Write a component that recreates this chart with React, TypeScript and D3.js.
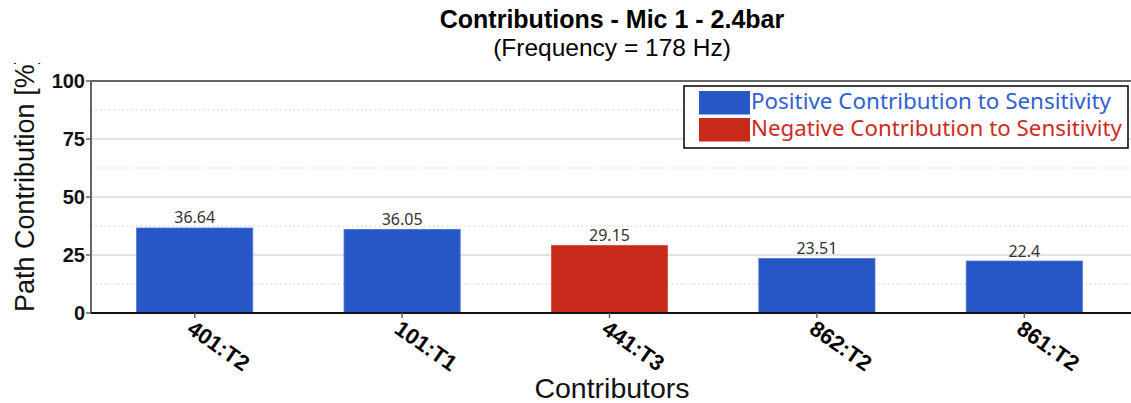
import React from "react";
import * as d3 from "d3";

const categories = ["401:T2", "101:T1", "441:T3", "862:T2", "861:T2"];
const values = [36.64, 36.05, 29.15, 23.51, 22.4];
const signs = ["positive", "positive", "negative", "positive", "positive"];
const majorTicks = [0, 25, 50, 75, 100];
const minorTicks = [12.5, 37.5, 62.5, 87.5];
const legendItems = [
  { key: "positive", label: "Positive Contribution to Sensitivity" },
  { key: "negative", label: "Negative Contribution to Sensitivity" },
];

const W = 1131;
const H = 403;
const colors: Record<string, string> = { positive: "#2757c6", negative: "#c7291b" };
const textColors: Record<string, string> = { positive: "#2f5fd0", negative: "#cf2b1e" };

export default function App() {
  const left = 91, right = 1128, top = 81, bottom = 313;
  const x = d3.scaleBand<string>().domain(categories).range([left, right]).paddingInner(0.44).paddingOuter(0.22);
  const y = d3.scaleLinear().domain([0, 100]).range([bottom, top]);
  const fmt = (v: number) => String(v);
  return (
    <svg width={W} height={H} style={{ position: "absolute", left: 0, top: 0, background: "#fff" }}>
      <defs>
        <clipPath id="ytitleclip">
          <rect x={0} y={63} width={80} height={340} />
        </clipPath>
      </defs>
      <rect x={0} y={0} width={W} height={H} fill="#fff" />
      {/* title */}
      <text x={612} y={28} textAnchor="middle" fontFamily="Liberation Sans, Arial, sans-serif" fontWeight="bold" fontSize={25} fill="#000">
        Contributions - Mic 1 - 2.4bar
      </text>
      <text x={612} y={55.5} textAnchor="middle" fontFamily="Liberation Sans, Arial, sans-serif" fontSize={24.5} fill="#000">
        (Frequency = 178 Hz)
      </text>
      {/* grid */}
      {minorTicks.map((t) => (
        <line key={"mi" + t} x1={left} x2={W} y1={y(t)} y2={y(t)} stroke="#c8c8c8" strokeWidth={1} strokeDasharray="1.5,3" />
      ))}
      {majorTicks.filter((t) => t > 0 && t < 100).map((t) => (
        <line key={"ma" + t} x1={left} x2={W} y1={y(t)} y2={y(t)} stroke="#dadada" strokeWidth={1.5} />
      ))}
      {/* bars */}
      {categories.map((c, i) => (
        <rect key={c} x={x(c)!} y={y(values[i])} width={x.bandwidth()} height={y(0) - y(values[i])}
          fill={colors[signs[i]]} stroke={signs[i] === "positive" ? "#4a73d4" : "#d24a3d"} strokeWidth={0.8} />
      ))}
      {categories.map((c, i) => (
        <text key={"v" + c} x={x(c)! + x.bandwidth() / 2} y={y(values[i]) - 4.5} textAnchor="middle"
          fontFamily="Noto Sans, sans-serif" fontSize={16} fill="#333">
          {fmt(values[i])}
        </text>
      ))}
      {/* frame / axes */}
      <line x1={left} x2={W} y1={top} y2={top} stroke="#666" strokeWidth={2} />
      <line x1={left} x2={left} y1={top - 1} y2={bottom} stroke="#666" strokeWidth={2} />
      <line x1={left} x2={W} y1={bottom} y2={bottom} stroke="#111" strokeWidth={2} />
      {majorTicks.map((t) => (
        <g key={"yt" + t}>
          <line x1={left - 5} x2={left} y1={y(t)} y2={y(t)} stroke="#666" strokeWidth={1.5} />
          <text x={left - 6} y={y(t)} dy="0.36em" textAnchor="end" fontFamily="Liberation Sans, Arial, sans-serif"
            fontWeight="bold" fontSize={20} fill="#111">
            {t}
          </text>
        </g>
      ))}
      {categories.map((c) => {
        const px = x(c)! + x.bandwidth() / 2;
        return (
          <g key={"xt" + c}>
            <line x1={px} x2={px} y1={bottom} y2={bottom + 5} stroke="#666" strokeWidth={1.5} />
            <text transform={`translate(${px - 9},${bottom + 19}) rotate(35)`} textAnchor="start"
              fontFamily="Liberation Sans, Arial, sans-serif" fontWeight="bold" fontSize={22} fill="#000">
              {c}
            </text>
          </g>
        );
      })}
      {/* axis titles */}
      <g clipPath="url(#ytitleclip)">
        <text transform={`translate(34,312) rotate(-90)`} textAnchor="start" fontFamily="Liberation Sans, Arial, sans-serif"
          fontSize={27} fill="#111">
          Path Contribution [%]
        </text>
      </g>
      <text x={612} y={398} textAnchor="middle" fontFamily="Liberation Sans, Arial, sans-serif" fontSize={28.5} fill="#111">
        Contributors
      </text>
      {/* legend */}
      <rect x={684} y={86} width={444} height={62} fill="#fff" stroke="#000" strokeWidth={1.5} />
      {legendItems.map((it, i) => (
        <g key={it.key}>
          <rect x={699} y={91 + i * 27} width={51} height={23.5} fill={colors[it.key]} />
          <text x={751} y={109 + i * 27} fontFamily="Noto Sans, sans-serif" fontSize={21.5} fill={textColors[it.key]}
            textLength={it.key === "positive" ? 360 : 371} lengthAdjust="spacingAndGlyphs">
            {it.label}
          </text>
        </g>
      ))}
    </svg>
  );
}
